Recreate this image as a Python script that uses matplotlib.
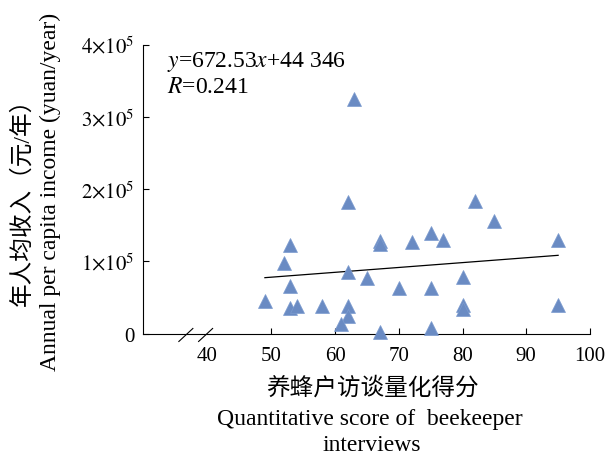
import numpy as np
import matplotlib.pyplot as plt

plt.rcParams['font.family'] = ['Liberation Serif', 'Noto Sans CJK SC']
plt.rcParams['mathtext.fontset'] = 'stix'

# survey scores and annual per capita income (yuan/year)
score = [63, 62, 82, 85, 95, 53, 52, 67, 67, 72, 75, 77, 62, 65, 53,
         80, 70, 75, 49, 53, 54, 58, 62, 62, 61, 80, 80, 95, 67, 75]
income = [324000, 181500, 183000, 156000, 129000, 122000, 97500, 128000,
          123500, 127000, 139000, 129000, 85500, 77000, 66000, 78500,
          62500, 62500, 45500, 35000, 38500, 38500, 38500, 24000, 13500,
          39500, 34000, 39500, 2500, 7000]
slope, intercept = 672.53, 44346
xticks = [40, 50, 60, 70, 80, 90, 100]
yticks = [0, 100000, 200000, 300000, 400000]
yticklabels = ['0', r'$1{\times}10^{5}$', r'$2{\times}10^{5}$',
               r'$3{\times}10^{5}$', r'$4{\times}10^{5}$']

fig = plt.figure(figsize=(6.14, 4.56), dpi=100)
ax = fig.add_axes([0.2321, 0.2664, 0.9609 - 0.2321, 0.9002 - 0.2664])

ax.plot(score, income, '^', ms=9.5, color='#6A8BC3', mec='#7B9BCF', mew=0.5,
        clip_on=False, zorder=3)
lx = np.array([min(score), max(score)])
ax.plot(lx, slope * lx + intercept, color='black', lw=0.9, zorder=2)

ax.set_xlim(29.8, 100)
ax.set_ylim(0, 400000)
ax.set_xticks(xticks)
ax.set_yticks(yticks)
ax.set_yticklabels(yticklabels)
ax.tick_params(direction='in', length=4, width=0.8, labelsize=15, pad=6)
ax.tick_params(axis='x', pad=9)
ax.xaxis.get_major_ticks()[0].tick1line.set_visible(False)
for s in ['top', 'right']:
    ax.spines[s].set_visible(False)
for s in ['left', 'bottom']:
    ax.spines[s].set_linewidth(0.8)

# axis break marks
for xb in [36.6, 39.7]:
    ax.plot([xb - 1.1, xb + 1.1], [-11000, 7000], color='black', lw=0.8,
            clip_on=False)

ax.text(0.055, 0.943, r'$y$=672.53$x$+44 346', transform=ax.transAxes,
        fontsize=17, va='center')
ax.text(0.055, 0.853, r'$R$=0.241', transform=ax.transAxes,
        fontsize=17, va='center')

fig.text(0.037, 0.57, '年人均收入（元/年）', rotation=90, ha='center',
         va='center', fontsize=17)
fig.text(0.082, 0.579, 'Annual per capita income (yuan/year)', rotation=90,
         ha='center', va='center', fontsize=17)

fig.text(0.607, 0.149, '养蜂户访谈量化得分', ha='center', va='center', fontsize=17)
fig.text(0.603, 0.079, 'Quantitative score of  beekeeper', ha='center',
         va='center', fontsize=17)
fig.text(0.606, 0.024, 'interviews', ha='center', va='center', fontsize=17)

fig.savefig('out.png', dpi=100)
